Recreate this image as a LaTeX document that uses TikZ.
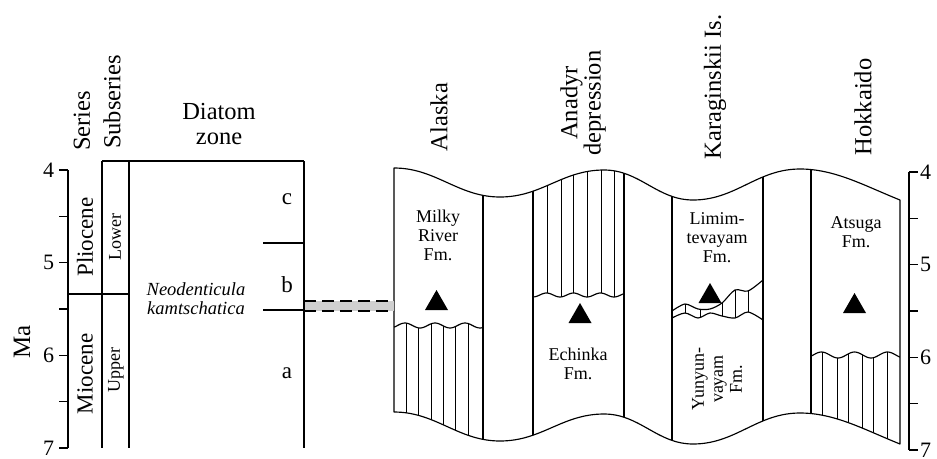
\documentclass[tikz,border=0pt]{standalone}
\usepackage{fontspec}
\setmainfont{Liberation Serif}
\usetikzlibrary{calc}
\begin{document}
\begin{tikzpicture}[x=1pt,y=-1pt,
  every node/.style={inner sep=0pt, outer sep=0pt},
  rule/.style={line width=1.15pt},
  hatch/.style={line width=1pt},
  head/.style={font=\fontsize{24.5}{22}\selectfont, align=center, rotate=90},
  agelabel/.style={font=\fontsize{22}{22}\selectfont},
  epoch/.style={font=\fontsize{23}{23}\selectfont, rotate=90},
  subepoch/.style={font=\fontsize{18}{18}\selectfont, rotate=90},
  zonelabel/.style={font=\fontsize{23}{23}\selectfont},
  fm/.style={font=\fontsize{18}{19}\selectfont, align=center},
  marker/.style={fill=black},
  gap/.style={fill=gray!38},
  gapedge/.style={line width=1.15pt, dash pattern=on 12pt off 6pt},
]
\useasboundingbox (0,0) rectangle (937,458);

% ---------- age axis (left) ----------
\draw[rule] (68,170) -- (68,448);
\foreach \k in {0,...,6}{
  \pgfmathsetmacro\ty{170+46.33*\k}
  \draw[rule] (59,\ty) -- (68,\ty);
}
\foreach \k/\n in {0/4,2/5,4/6,6/7}{
  \node[agelabel, anchor=east] (ml\n) at (54,{170+46.33*\k}) {\n};
}
\node[font=\fontsize{25}{25}\selectfont, rotate=90] (ma) at (22,342) {Ma};

% ---------- stratigraphic table ----------
\draw[rule] (102,161) -- (304,161);
\draw[rule] (102,161) -- (102,448);
\draw[rule] (129,161) -- (129,448);
\draw[rule] (304,161) -- (304,448);
\draw[rule] (68,294) -- (129,294);
\draw[rule] (263,243) -- (304,243);
\draw[rule] (263,310) -- (304,310);

\node[head] (series) at (82,121) {Series};
\node[head] (subseries) at (112,102) {Subseries};
\node[font=\fontsize{24.5}{24.5}\selectfont, align=center] (diatom) at (219,124) {Diatom\\zone};

\node[epoch] (plio) at (85,237) {Pliocene};
\node[epoch] (mio) at (85,374) {Miocene};
\node[subepoch] (lower) at (115,237) {Lower};
\node[subepoch] (upper) at (116,370) {Upper};

\node[zonelabel] (zc) at (287,199) {c};
\node[zonelabel] (zb) at (287,285) {b};
\node[zonelabel] (za) at (287,373) {a};
\node[font=\fontsize{18.5}{19}\itshape, align=center] (nk) at (196,299)
  {Neodenticula\\kamtschatica};

% ---------- correlation panel ----------
\newcommand\panelpath{(394,168) .. controls (436,168) and (458,197) .. (500,197)
  .. controls (542,197) and (562,170) .. (604,170)
  .. controls (640,170) and (657,200) .. (693,200)
  .. controls (736,200) and (757,169) .. (800,169)
  .. controls (835,169) and (865,186) .. (900,200)
  -- (900,444)
  .. controls (865,430) and (835,413) .. (800,413)
  .. controls (757,413) and (736,444) .. (693,444)
  .. controls (657,444) and (640,414) .. (604,414)
  .. controls (562,414) and (542,441) .. (500,441)
  .. controls (458,441) and (436,412) .. (394,412) -- cycle}

\begin{scope}
  \clip \panelpath;
  % column borders
  \foreach \x in {483,533,624,672,763,811}
    \draw[rule] (\x,150) -- (\x,460);
  % Alaska: hatched unit below the unconformity
  \begin{scope}
    \clip plot[domain=394:483,samples=60] (\x,{325.5+2.5*cos(12*(\x-420))})
      -- (483,460) -- (394,460) -- cycle;
    \foreach \x in {406,418,431,443,455,468}
      \draw[hatch] (\x,300) -- (\x,460);
  \end{scope}
  % Anadyr: hatched unit above the unconformity
  \begin{scope}
    \clip (533,150) -- plot[domain=533:624,samples=60] (\x,{295+2*cos(13.33*(\x-560))})
      -- (624,150) -- cycle;
    \foreach \x in {547,561,573,587,601,614}
      \draw[hatch] (\x,150) -- (\x,330);
  \end{scope}
  % Hokkaido: hatched unit below the unconformity
  \begin{scope}
    \clip plot[domain=811:900,samples=60] (\x,{355+3*cos(10.9*(\x-838))})
      -- (900,460) -- (811,460) -- cycle;
    \foreach \x in {822,837,848,862,873,887}
      \draw[hatch] (\x,330) -- (\x,460);
  \end{scope}
  % Karaginskii: thin hatched band
  \begin{scope}
    \clip plot[smooth, tension=0.5] coordinates {(672,311) (685,304) (698,309) (710,309)
        (722,303) (735,290) (748,291) (763,280)}
      -- plot[smooth, tension=0.5] coordinates {(763,320) (748,312) (735,318) (722,316)
        (710,313) (698,318) (685,313) (672,318)} -- cycle;
    \foreach \x in {685,700,722,735,748}
      \draw[hatch] (\x,270) -- (\x,330);
  \end{scope}
  % unconformities
  \draw[rule] plot[domain=394:483,samples=60] (\x,{325.5+2.5*cos(12*(\x-420))});
  \draw[rule] plot[domain=533:624,samples=60] (\x,{295+2*cos(13.33*(\x-560))});
  \draw[rule] plot[domain=811:900,samples=60] (\x,{355+3*cos(10.9*(\x-838))});
  \draw[rule] plot[smooth, tension=0.5] coordinates {(672,311) (685,304) (698,309) (710,309)
        (722,303) (735,290) (748,291) (763,280)};
  \draw[rule] plot[smooth, tension=0.5] coordinates {(672,318) (685,313) (698,318) (710,313)
        (722,316) (735,318) (748,312) (763,320)};
\end{scope}
\draw[rule, line join=round] \panelpath;

% diatom finds
\fill[marker] (425,310) -- (448,310) -- (436.5,290) -- cycle;
\fill[marker] (568.5,323) -- (591.5,323) -- (580,303) -- cycle;
\fill[marker] (698.5,303) -- (721.5,303) -- (710,283) -- cycle;
\fill[marker] (843,313) -- (866,313) -- (854.5,293) -- cycle;

% formation names
\node[fm] (milky) at (438,235) {Milky\\River\\Fm.};
\node[fm] (echinka) at (578,364) {Echinka\\Fm.};
\node[fm] (limim) at (717,238) {Limim-\\tevayam\\Fm.};
\node[fm] (atsuga) at (856,232) {Atsuga\\Fm.};
\node[fm, rotate=90] (yunyun) at (717,379) {Yunyun-\\vayam\\Fm.};

% region headers
\node[head] (alaska) at (439,117) {Alaska};
\node[head] (anadyr) at (583,103) {Anadyr\\depression};
\node[head] (karag) at (715,87) {Karaginskii Is.};
\node[head] (hokk) at (863,107) {Hokkaido};

% correlation of the zone b/a boundary with the Alaska section
\coordinate (zoneedge) at (304,306);
\coordinate (alaskaedge) at (394,306);
\fill[gap] ($(zoneedge)+(0.5,-5)$) rectangle ($(alaskaedge)+(0,5)$);
\draw[gapedge] ($(zoneedge)+(0,-5)$) -- ($(alaskaedge)+(0,-5)$);
\draw[gapedge] ($(zoneedge)+(0,5)$) -- ($(alaskaedge)+(0,5)$);

% ---------- age axis (right) ----------
\draw[rule] (909,172) -- (909,450);
\foreach \k in {0,...,6}{
  \pgfmathsetmacro\ty{172+46.33*\k}
  \draw[rule] (909,\ty) -- (918,\ty);
}
\foreach \k/\n in {0/4,2/5,4/6,6/7}{
  \node[agelabel, anchor=west] (mr\n) at (920,{172+46.33*\k}) {\n};
}
\end{tikzpicture}
\end{document}
